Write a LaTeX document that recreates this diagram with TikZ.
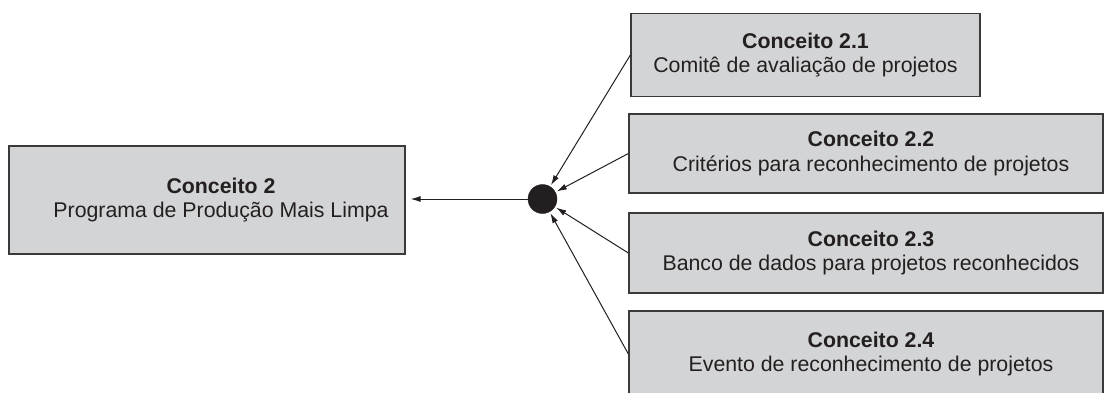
\documentclass[tikz,border=0pt]{standalone}
\usepackage{fontspec}
\setmainfont{Liberation Sans}
\usetikzlibrary{arrows.meta}
\definecolor{boxfill}{HTML}{D3D4D6}
\definecolor{boxline}{HTML}{3A3A3A}
\definecolor{ink}{HTML}{231F20}
\tikzset{
  concept/.style={draw=boxline, fill=boxfill, line width=1.3pt, rectangle,
    inner sep=0pt},
  caption/.style={inner sep=0pt, align=center, text=ink,
    font=\fontsize{21.3}{24.5}\selectfont},
  link/.style={draw=ink, line width=1pt,
    -{Latex[length=10pt,width=6pt]}},
  hub/.style={circle, fill=ink, draw=ink, minimum size=29pt, inner sep=0pt}
}
\begin{document}
\begin{tikzpicture}[x=1pt,y=-1pt]
  \useasboundingbox (0,0) rectangle (1105,392);
  % main concept and sub-concepts
  \node[concept, minimum width=396pt, minimum height=108pt] (c2) at (207,200) {};
  \node[concept, minimum width=349pt, minimum height=83pt] (c21) at (805.5,55) {};
  \node[concept, minimum width=474pt, minimum height=79pt] (c22) at (866,153.5) {};
  \node[concept, minimum width=474pt, minimum height=80pt] (c23) at (866,253) {};
  \node[concept, minimum width=474pt, minimum height=86pt] (c24) at (866,354) {};
  % box texts
  \node[caption] (t2) at ([xshift=14pt]c2.center)
    {\textbf{Conceito 2}\\Programa de Produção Mais Limpa};
  \node[caption] (t21) at (c21.center)
    {\textbf{Conceito 2.1}\\Comitê de avaliação de projetos};
  \node[caption] (t22) at ([xshift=5pt]c22.center)
    {\textbf{Conceito 2.2}\\Critérios para reconhecimento de projetos};
  \node[caption] (t23) at ([xshift=5pt]c23.center)
    {\textbf{Conceito 2.3}\\Banco de dados para projetos reconhecidos};
  \node[caption] (t24) at ([xshift=5pt]c24.center)
    {\textbf{Conceito 2.4}\\Evento de reconhecimento de projetos};
  % junction point
  \node[hub] (hub) at (542.5,199) {};
  % connectors
  \draw[link, shorten >=5pt] (hub.west) -- (c2.east |- hub.west);
  \draw[link, shorten >=1.5pt] (c21.west) -- (hub);
  \draw[link, shorten >=1.5pt] (c22.west) -- (hub);
  \draw[link, shorten >=1.5pt] (c23.west) -- (hub);
  \draw[link, shorten >=1.5pt] (c24.west) -- (hub);
\end{tikzpicture}
\end{document}
